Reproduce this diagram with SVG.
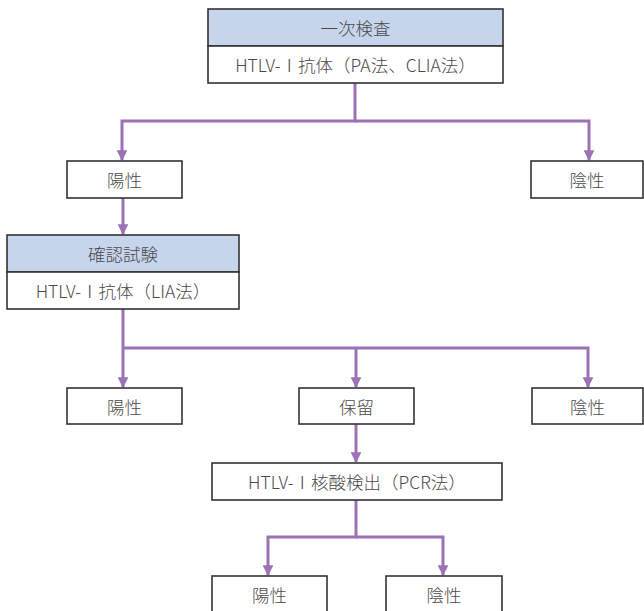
<svg xmlns="http://www.w3.org/2000/svg" width="644" height="611" viewBox="0 0 644 611">
  <style>
    .box { fill: #ffffff; stroke: #333333; stroke-width: 1.6; }
    .head { fill: #c6d4ec; stroke: #333333; stroke-width: 1.6; }
    .lbl { font-family: "Noto Sans CJK JP", "Noto Sans", sans-serif; font-size: 17.5px; font-weight: 300; fill: #4a4a4a; text-anchor: middle; dominant-baseline: central; }
    .link { fill: none; stroke: #9b72b5; stroke-width: 3; }
  </style>
  <defs>
    <marker id="arrow" viewBox="0 0 10 10" refX="9" refY="5" markerWidth="3.6" markerHeight="3.6" orient="auto" markerUnits="strokeWidth">
      <path d="M0,0 L10,5 L0,10 Z" fill="#9b72b5"/>
    </marker>
  </defs>

  <rect width="644" height="611" fill="#ffffff"/>

  <!-- connectors -->
  <g id="connectors">
    <path class="link" d="M355,83 V121 H122 V160" marker-end="url(#arrow)"/>
    <path class="link" d="M355,121 H589 V160" marker-end="url(#arrow)"/>
    <path class="link" d="M123,198 V234" marker-end="url(#arrow)"/>
    <path class="link" d="M123,309 V348 V387" marker-end="url(#arrow)"/>
    <path class="link" d="M123,348 H588 V387" marker-end="url(#arrow)"/>
    <path class="link" d="M356,348 V387" marker-end="url(#arrow)"/>
    <path class="link" d="M356,424 V462" marker-end="url(#arrow)"/>
    <path class="link" d="M356,500 V537 H268 V575" marker-end="url(#arrow)"/>
    <path class="link" d="M356,537 H443 V575" marker-end="url(#arrow)"/>
  </g>

  <!-- primary screening -->
  <g id="primary">
    <rect class="head" x="208" y="9" width="295" height="37"/>
    <rect class="box" x="208" y="46" width="295" height="37"/>
    <text class="lbl" x="355.5" y="27.5">一次検査</text>
    <text class="lbl" x="355.5" y="64.5">HTLV-Ⅰ抗体（PA法、CLIA法）</text>
  </g>

  <g id="positive1">
    <rect class="box" x="67" y="161" width="115" height="37"/>
    <text class="lbl" x="124.5" y="179.5">陽性</text>
  </g>

  <g id="negative1">
    <rect class="box" x="531" y="161" width="112" height="37"/>
    <text class="lbl" x="587" y="179.5">陰性</text>
  </g>

  <!-- confirmatory test -->
  <g id="confirm">
    <rect class="head" x="7" y="235" width="232" height="37"/>
    <rect class="box" x="7" y="272" width="232" height="37"/>
    <text class="lbl" x="123" y="253.5">確認試験</text>
    <text class="lbl" x="123" y="290.5">HTLV-Ⅰ抗体（LIA法）</text>
  </g>

  <g id="positive2">
    <rect class="box" x="67" y="388" width="115" height="36"/>
    <text class="lbl" x="124.5" y="406">陽性</text>
  </g>

  <g id="pending">
    <rect class="box" x="299" y="388" width="115" height="36"/>
    <text class="lbl" x="356.5" y="406">保留</text>
  </g>

  <g id="negative2">
    <rect class="box" x="532" y="388" width="111" height="36"/>
    <text class="lbl" x="587.5" y="406">陰性</text>
  </g>

  <!-- nucleic acid test -->
  <g id="pcr">
    <rect class="box" x="212" y="463" width="290" height="37"/>
    <text class="lbl" x="357" y="481.5">HTLV-Ⅰ核酸検出（PCR法）</text>
  </g>

  <g id="positive3">
    <rect class="box" x="212" y="576" width="115" height="40"/>
    <text class="lbl" x="269.5" y="594">陽性</text>
  </g>

  <g id="negative3">
    <rect class="box" x="386" y="576" width="116" height="40"/>
    <text class="lbl" x="444" y="594">陰性</text>
  </g>
</svg>
